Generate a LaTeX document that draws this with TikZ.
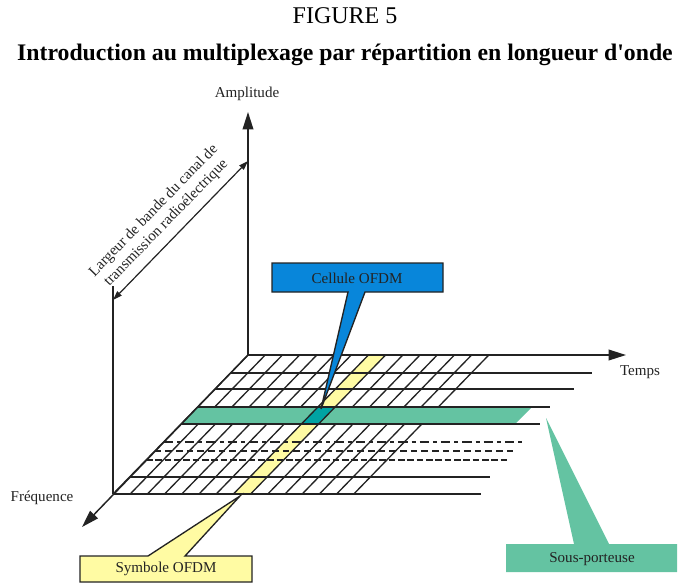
\documentclass[tikz,border=0pt]{standalone}
\usepackage{fontspec}
\setmainfont{Liberation Serif}
\usetikzlibrary{arrows.meta}
\definecolor{cellblue}{RGB}{8,134,218}
\definecolor{subgreen}{RGB}{100,195,162}
\definecolor{cellteal}{RGB}{0,163,163}
\definecolor{symyellow}{RGB}{255,251,163}
\definecolor{ink}{RGB}{35,35,35}

\begin{document}
\begin{tikzpicture}[x=0.75pt,y=-0.75pt]
        \tikzstyle{grid}=[draw=ink,line width=1pt]
        \tikzstyle{axis}=[draw=ink,line width=1.1pt,-{Triangle[length=13pt,width=8pt]}]
        \tikzstyle{label}=[font=\fontsize{11.3}{13}\selectfont,text=ink,inner sep=1pt]
        \tikzstyle{callout}=[draw=ink,line width=1pt]
        \useasboundingbox (0,0) rectangle (680,583);
        \node [font=\fontsize{18}{20}\selectfont] (fig) at (345,16) {FIGURE 5};
        \node [font=\bfseries\fontsize{17.8}{20}\selectfont] (title) at (345,55) {Introduction au multiplexage par répartition en longueur d\textquotesingle onde};
        \coordinate (orig) at (248,355);
        \coordinate (amp) at (248,112);
        \coordinate (temps) at (626,355);
        \coordinate (freq) at (82,527);
        \coordinate (corner) at (113,494);
        \coordinate (bwtop) at (248,161);
        \coordinate (bwlow) at (113,300);
        \coordinate (bwend) at (113,286);
        % symbole OFDM
        \fill [symyellow] (368.4,355) -- (385.6,355) -- (250.6,494) -- (233.4,494) -- cycle;
        \foreach \k in {0,...,14}
            \draw [grid] ({248+17.2*\k},355) -- ({113+17.2*\k},494);
        % sous-porteuse
        \fill [subgreen] (197.5,407) -- (532,407) -- (515,424) -- (181,424) -- cycle;
        \filldraw [grid,fill=cellteal] (317.9,407) -- (335.1,407) -- (318.6,424) -- (301.4,424) -- cycle;
        \draw [grid] (230.5,373) -- (592,373);
        \draw [grid] (215,389) -- (574,389);
        \draw [grid] (197.5,407) -- (550,407);
        \draw [grid] (181,424) -- (540,424);
        \draw [grid,dash pattern=on 7pt off 3pt on 3pt off 3pt] (163.5,442) -- (525,442);
        \draw [grid,dash pattern=on 5pt off 3pt] (154.8,451) -- (517,451);
        \draw [grid,line width=2pt,dash pattern=on 5pt off 2pt] (146,460) -- (507,460);
        \draw [grid] (129.5,477) -- (490,477);
        \draw [grid] (corner) -- (481,494);
        \draw [axis] (orig) -- (amp);
        \draw [axis] (orig) -- (temps);
        \draw [axis] (orig) -- (freq);
        \draw [grid] (corner) -- (bwend);
        \draw [draw=ink,line width=0.9pt,{Triangle[length=7pt,width=4.5pt]}-{Triangle[length=7pt,width=4.5pt]}] (bwlow) -- (bwtop);
        \node [label] (amplabel) at (247,94) {Amplitude};
        \node [label] (tempslabel) at (640,372) {Temps};
        \node [label] (freqlabel) at (42,498) {Fréquence};
        \node [label,rotate=45.8,align=center] (bwlabel) at (160,217) {Largeur de bande du canal de\\transmission radioélectrique};
        \filldraw [callout,fill=cellblue] (272,263) -- (443,263) -- (443,292) -- (365,292) -- (321,409) -- (348,292) -- (272,292) -- cycle;
        \node [label] (cell) at (357,278) {Cellule OFDM};
        \fill [subgreen] (506,544) -- (574,544) -- (546,418) -- (609,544) -- (677,544) -- (677,572) -- (506,572) -- cycle;
        \node [label] (sub) at (592,559) {Sous-porteuse};
        \filldraw [callout,fill=symyellow] (80,556) -- (148,556) -- (240,496) -- (185,556) -- (252,556) -- (252,582) -- (80,582) -- cycle;
        \node [label] (sym) at (166,569) {Symbole OFDM};
    \end{tikzpicture}
\end{document}
